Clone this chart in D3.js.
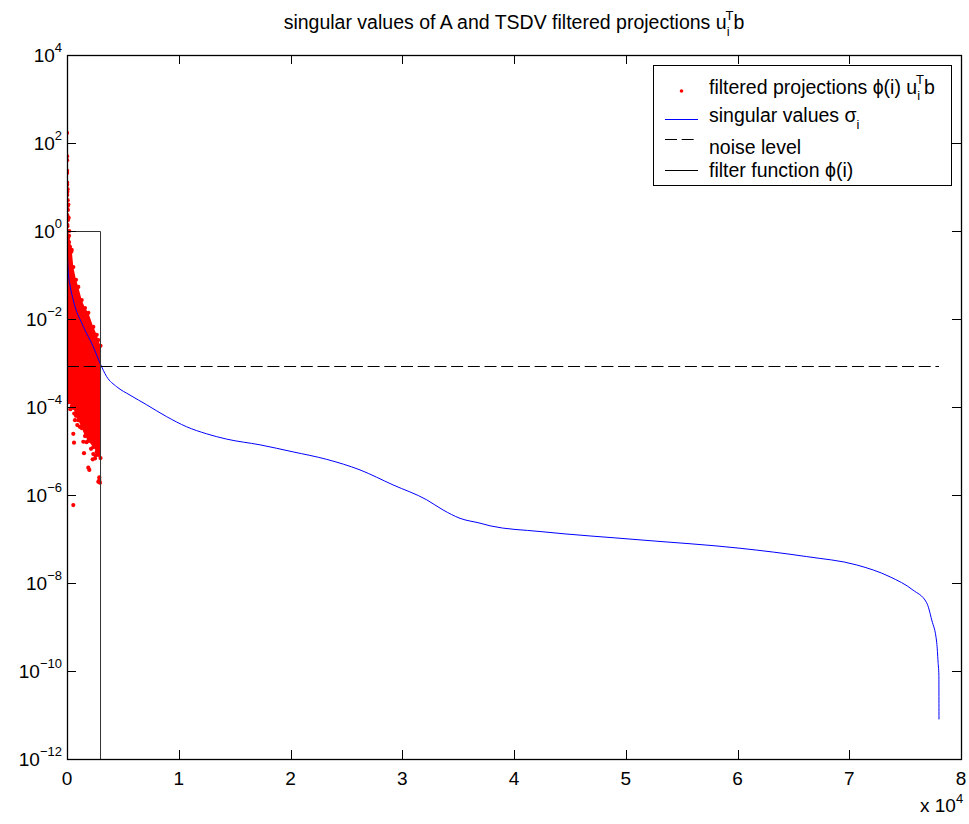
<!DOCTYPE html>
<html>
<head>
<meta charset="utf-8">
<script src="https://cdn.jsdelivr.net/npm/d3@7"></script>
<style>
  body { margin: 0; background: #fff; }
  svg { font-family: "Liberation Sans", Arial, Helvetica, sans-serif; }
</style>
</head>
<body>
<svg width="969" height="824"></svg>
<script>
// ---- data (index, log10 value) ----
const sigmaIdx = [1, 40, 120, 250, 560, 1460, 2350, 2950, 3550, 4450, 5640, 7130, 8920, 10710, 12500,
  14290, 17270, 20230, 23240, 26220, 29170, 32190, 33650, 35170, 36960, 37850, 42330, 51280, 60220,
  66190, 70670, 73650, 75700, 76930, 77380, 77830, 77950, 78020, 78030];
const sigmaLog = [-0.05, -0.5, -0.95, -1.2, -1.57, -2.17, -2.63, -3.0, -3.31, -3.54, -3.73, -3.95, -4.22,
  -4.45, -4.61, -4.73, -4.86, -5.02, -5.19, -5.43, -5.77, -6.11, -6.34, -6.53, -6.64, -6.70, -6.83,
  -7.02, -7.21, -7.40, -7.59, -7.86, -8.16, -8.45, -8.84, -9.36, -9.8, -10.1, -11.1];

// dense part of the filtered projections cloud: upper / lower edge per index
const bandIdx = [27, 179, 420, 564, 805, 1011, 1315, 1611, 1906, 2354, 2658, 2801, 2998];
const bandHi = [0.14, -0.11, -0.43, -0.82, -1.11, -1.27, -1.57, -1.75, -1.86, -2.18, -2.36, -2.48, -2.61];
const bandLo = [-3.80, -3.89, -3.98, -4.02, -4.20, -4.30, -4.48, -4.66, -4.77, -4.91, -5.02, -5.09, -5.16];

// single projections that stand out of the cloud
const dotIdx = [2, 4, 6, 9, 11, 14, 16, 30, 20, 50, 60, 70, 80, 120, 25, 90, 150, 35, 200, 100, 180, 268, 385,
  564, 779, 510, 716, 922, 564, 626, 1459, 1521, 2354, 2300, 2506, 1906, 1996, 2890, 2801, 2890, 2950, 564,
  300, 650, 1150, 1750, 2150, 2550];
const dotLog = [2.23, 1.70, 1.61, 1.37, 1.32, 1.10, 1.05, 0.89, 0.82, 0.95, 0.70, 0.57, 0.48, 0.6, 0.36, 0.25, 0.3,
  0.11, 0.0, -0.16, -0.25, -0.36, -0.47,
  -3.60, -3.88, -3.99, -4.30, -4.41, -4.61, -4.81, -4.79, -5.05, -5.07, -5.19, -5.17, -5.38, -5.43, -5.60,
  -5.70, -5.66, -5.72, -6.23,
  -4.05, -4.15, -4.45, -4.80, -4.95, -5.10];

const noiseLevel = 8.5e-4;
const nValues = 78030;
const filterIdx = [1, 3000, 3000];
const filterVal = [1, 1, 0];

const xTicks = [0, 1, 2, 3, 4, 5, 6, 7, 8];          // x 10^4
const yTickExp = [-12, -10, -8, -6, -4, -2, 0, 2, 4];

// ---- layout ----
const svg = d3.select('svg');
const width = +svg.attr('width');
const height = +svg.attr('height');
const margin = { top: 55, right: 8, bottom: 65, left: 67 };

const x = d3.scaleLinear().domain([0, 80000]).range([margin.left, width - margin.right]);
const y = d3.scaleLog().domain([1e-12, 1e4]).range([height - margin.bottom, margin.top]);
const p10 = v => Math.pow(10, v);
const yv = v => v > 0 ? y(v) : y.range()[0];

const plot = svg.append('g');
svg.append('clipPath').attr('id', 'clip').append('rect')
  .attr('x', margin.left).attr('y', margin.top)
  .attr('width', x.range()[1] - margin.left).attr('height', y.range()[0] - margin.top);
plot.attr('clip-path', 'url(#clip)');

// red cloud
const band = bandIdx.map((d, i) => ({ i: d, hi: p10(bandHi[i]), lo: p10(bandLo[i]) }));
plot.append('path')
  .datum(band)
  .attr('fill', '#ff0000')
  .attr('d', d3.area().x(d => x(d.i)).y0(d => y(d.lo)).y1(d => y(d.hi)));

const dots = dotIdx.map((d, i) => ({ i: d, v: p10(dotLog[i]) }))
  .concat(band.map(d => ({ i: d.i, v: d.hi })), band.map(d => ({ i: d.i, v: d.lo })));
plot.selectAll('circle.proj').data(dots).enter()
  .append('circle')
  .attr('class', 'proj')
  .attr('cx', d => x(d.i))
  .attr('cy', d => y(d.v))
  .attr('r', 2.1)
  .attr('fill', '#ff0000');

// singular values
const sigma = sigmaIdx.map((d, i) => [d, p10(sigmaLog[i])]);
plot.append('path')
  .datum(sigma)
  .attr('fill', 'none')
  .attr('stroke', '#0000ff')
  .attr('stroke-width', 1)
  .attr('d', d3.line().x(d => x(d[0])).y(d => y(d[1])).curve(d3.curveMonotoneX));

// noise level
const ny = Math.round(y(noiseLevel)) + 0.5;
plot.append('line')
  .attr('x1', x(1)).attr('x2', x(nValues))
  .attr('y1', ny).attr('y2', ny)
  .attr('stroke', '#000').attr('stroke-width', 1)
  .attr('stroke-dasharray', '12,4.7');

// filter function
plot.append('path')
  .datum(filterIdx.map((d, i) => [d, filterVal[i]]))
  .attr('fill', 'none')
  .attr('stroke', '#333')
  .attr('stroke-width', 1)
  .attr('d', d3.line().x(d => x(d[0])).y(d => Math.round(yv(d[1])) + 0.5));

// ---- axes box ----
const x0 = x.range()[0], x1 = x.range()[1], y0 = y.range()[0], y1 = y.range()[1];
const tickLen = 9;
const axes = svg.append('g').attr('stroke', '#000').attr('stroke-width', 1);

xTicks.forEach(t => {
  const px = Math.round(x(t * 1e4)) + 0.5;
  axes.append('line').attr('x1', px).attr('x2', px).attr('y1', y0).attr('y2', y0 - tickLen);
  axes.append('line').attr('x1', px).attr('x2', px).attr('y1', y1).attr('y2', y1 + tickLen);
});
yTickExp.forEach(e => {
  const py = Math.round(y(p10(e))) + 0.5;
  axes.append('line').attr('x1', x0).attr('x2', x0 + tickLen).attr('y1', py).attr('y2', py);
  axes.append('line').attr('x1', x1).attr('x2', x1 - tickLen).attr('y1', py).attr('y2', py);
});
axes.append('rect')
  .attr('x', Math.round(x0) + 0.5).attr('y', Math.round(y1) + 0.5)
  .attr('width', Math.round(x1 - x0)).attr('height', Math.round(y0 - y1))
  .attr('fill', 'none').attr('stroke-width', 1.3);

// tick labels
svg.selectAll('text.xt').data(xTicks).enter()
  .append('text')
  .attr('class', 'xt')
  .attr('x', d => x(d * 1e4))
  .attr('y', y0 + 26)
  .attr('text-anchor', 'middle')
  .attr('font-size', 19)
  .text(d => d);

const xMul = svg.append('text')
  .attr('x', 920).attr('y', y0 + 53)
  .attr('font-size', 19);
xMul.append('tspan').text('x 10');
xMul.append('tspan').attr('font-size', 13).attr('dy', -9).text('4');

yTickExp.forEach(e => {
  const t = svg.append('text')
    .attr('x', 62)
    .attr('y', y(p10(e)) + 7)
    .attr('text-anchor', 'end')
    .attr('font-size', 19);
  t.append('tspan').text('10');
  t.append('tspan').attr('font-size', 13).attr('dy', -10)
    .text(e < 0 ? '\u2212' + Math.abs(e) : String(e));
});

// title
const title = svg.append('text')
  .attr('x', (x0 + x1) / 2)
  .attr('y', 29)
  .attr('text-anchor', 'middle')
  .attr('font-size', 19.5);
title.append('tspan').text('singular values of A and TSDV filtered projections u');
title.append('tspan').attr('font-size', 13).attr('dy', 7).text('i');
title.append('tspan').attr('font-size', 13).attr('dx', -4).attr('dy', -16).text('T');
title.append('tspan').attr('dy', 9).text('b');

// ---- legend ----
const lg = svg.append('g');
lg.append('rect')
  .attr('x', 653.5).attr('y', 65.5).attr('width', 298).attr('height', 120)
  .attr('fill', '#fff').attr('stroke', '#000').attr('stroke-width', 1);

const lx0 = 665, lx1 = 698, tx = 709;
lg.append('circle').attr('cx', (lx0 + lx1) / 2).attr('cy', 91).attr('r', 1.8).attr('fill', '#ff0000');
lg.append('line').attr('x1', lx0).attr('x2', lx1).attr('y1', 119.5).attr('y2', 119.5)
  .attr('stroke', '#0000ff').attr('stroke-width', 1);
lg.append('line').attr('x1', lx0).attr('x2', lx1).attr('y1', 139.5).attr('y2', 139.5)
  .attr('stroke', '#000').attr('stroke-dasharray', '12,4.7');
lg.append('line').attr('x1', lx0).attr('x2', lx1).attr('y1', 170.5).attr('y2', 170.5)
  .attr('stroke', '#000');

const t1 = lg.append('text').attr('x', tx).attr('y', 94).attr('font-size', 19.5);
t1.append('tspan').text('filtered projections \u03d5(i) u');
t1.append('tspan').attr('font-size', 13).attr('dy', 6).text('i');
t1.append('tspan').attr('font-size', 13).attr('dx', -4).attr('dy', -16).text('T');
t1.append('tspan').attr('dy', 10).text('b');

const t2 = lg.append('text').attr('x', tx).attr('y', 122).attr('font-size', 19.5);
t2.append('tspan').text('singular values \u03c3');
t2.append('tspan').attr('font-size', 13).attr('dy', 7).text('i');

lg.append('text').attr('x', tx).attr('y', 154).attr('font-size', 19.5).text('noise level');
lg.append('text').attr('x', tx).attr('y', 177).attr('font-size', 19.5).text('filter function \u03d5(i)');
</script>
</body>
</html>
